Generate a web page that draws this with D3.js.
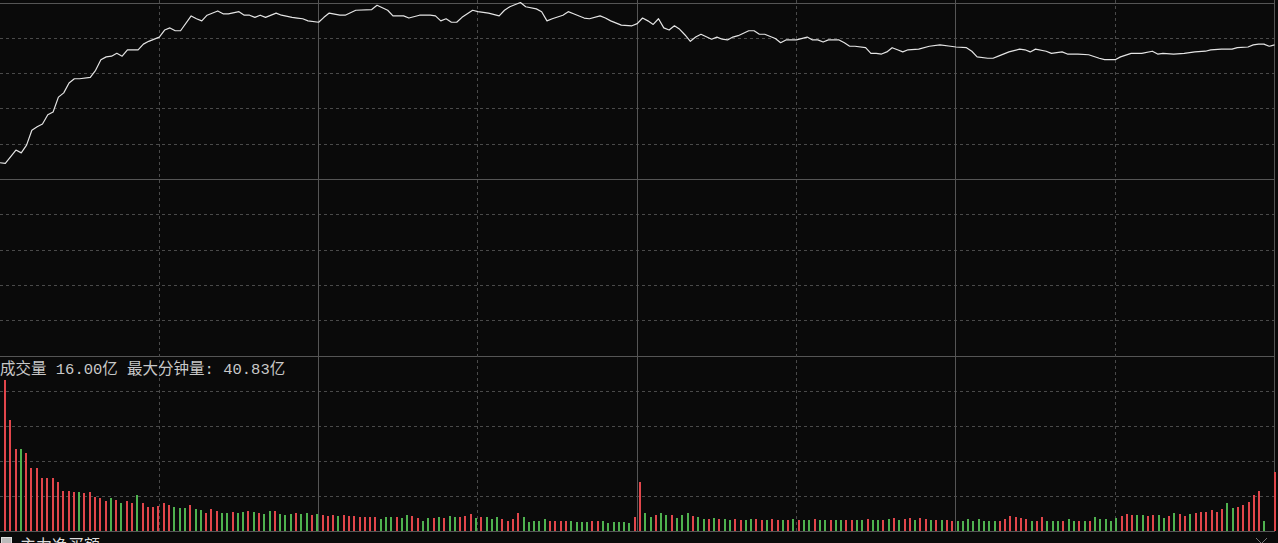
<!DOCTYPE html>
<html>
<head>
<meta charset="utf-8">
<script src="https://cdn.jsdelivr.net/npm/d3@7"></script>
<style>
  html, body { margin: 0; padding: 0; background: #0a0a0a; overflow: hidden; }
  svg { display: block; }
</style>
</head>
<body>
<svg id="chart"></svg>
<script>
// Intraday chart: price line (% change vs previous close) + minute volume bars

// price line, sampled minutes and % change
const lineMinutes = [0,1,3,4,5,6,7,8,9,10,11,12,13,14,15,17,18,19,20,21,22,23,24,25,26,27,28,30,31,32,33,34,36,37,38,39,41,42,43,45,46,47,48,49,50,52,53,55,56,57,58,60,61,62,64,65,67,70,71,73,74,76,77,79,81,82,83,84,85,86,87,88,89,90,92,94,95,96,98,99,101,102,103,104,106,107,108,110,111,113,114,115,117,119,120,121,122,123,124,125,126,127,128,129,130,131,132,134,135,136,137,138,139,141,142,143,144,146,147,148,150,152,153,154,155,156,158,159,160,161,163,164,165,166,167,168,169,170,171,173,175,177,179,180,182,183,184,186,187,188,190,192,193,194,195,197,198,200,201,202,203,205,207,208,210,211,213,215,217,218,219,221,223,225,227,228,230,232,233,235,236,237,238,239,240];
const linePct = [0.23,0.22,0.41,0.37,0.48,0.69,0.74,0.78,0.91,0.95,1.16,1.22,1.36,1.42,1.42,1.44,1.54,1.69,1.73,1.74,1.78,1.74,1.83,1.83,1.83,1.91,1.95,2.01,2.11,2.14,2.10,2.10,2.31,2.27,2.24,2.32,2.38,2.34,2.34,2.37,2.32,2.32,2.29,2.32,2.29,2.35,2.32,2.29,2.28,2.27,2.24,2.22,2.29,2.35,2.32,2.32,2.39,2.40,2.46,2.39,2.31,2.31,2.28,2.32,2.32,2.31,2.24,2.27,2.22,2.22,2.29,2.34,2.39,2.37,2.35,2.31,2.39,2.44,2.50,2.44,2.41,2.37,2.24,2.27,2.32,2.37,2.34,2.28,2.27,2.31,2.28,2.24,2.18,2.17,2.20,2.28,2.24,2.19,2.27,2.14,2.11,2.17,2.12,2.04,1.95,2.01,2.05,1.98,2.01,1.98,1.97,2.01,2.03,2.10,2.10,2.05,2.05,1.99,1.93,1.97,1.97,2.01,1.97,1.97,1.94,1.97,1.97,1.93,1.88,1.88,1.86,1.78,1.78,1.77,1.80,1.86,1.83,1.80,1.83,1.84,1.88,1.90,1.88,1.87,1.86,1.81,1.73,1.71,1.71,1.74,1.80,1.84,1.83,1.80,1.84,1.81,1.78,1.80,1.77,1.77,1.77,1.76,1.71,1.69,1.69,1.73,1.78,1.78,1.81,1.77,1.78,1.77,1.78,1.80,1.81,1.83,1.84,1.84,1.86,1.87,1.90,1.91,1.91,1.88,1.90];

// minute volume (亿), one per minute 0..240
const volume = [
  40.83,30.1,22.1,22.3,21.1,17.1,17.1,14.3,14.3,14.5,13.3,11.0,11.0,10.6,10.6,10.3,10.6,9.4,9.0,8.2,
  9.0,8.6,7.7,8.1,7.8,9.9,7.7,6.5,6.7,6.9,7.6,7.2,6.5,6.2,6.4,7.0,6.1,5.8,5.0,6.1,
  5.6,5.1,5.0,5.2,5.0,5.3,5.6,5.2,5.0,4.8,5.6,5.5,4.6,4.4,4.6,4.9,4.6,4.9,4.5,4.6,
  4.4,4.1,4.31,4.13,4.40,4.13,4.13,3.86,3.86,3.86,3.86,3.23,3.86,3.95,3.86,3.59,4.31,4.13,3.68,2.96,
  3.59,3.68,3.86,3.68,4.04,3.86,3.86,4.13,4.66,3.68,3.86,3.86,3.23,3.86,3.23,2.78,3.32,5.02,3.86,2.69,
  2.87,2.96,3.23,2.96,2.96,2.78,2.78,2.78,2.60,2.60,2.69,2.87,2.78,2.78,2.42,2.69,2.69,2.60,2.33,3.86,
  13.37,5.02,3.86,4.40,5.02,4.49,4.40,3.68,4.40,5.02,4.22,3.9,3.3,3.3,3.5,3.4,3.3,3.2,3.3,3.2,
  3.0,3.3,3.4,3.1,3.2,3.4,3.1,3.0,3.2,3.3,3.1,3.0,3.2,3.4,3.0,3.1,3.0,3.2,3.1,3.0,
  3.2,3.0,3.1,3.3,3.2,3.0,3.1,3.3,3.5,3.2,3.3,3.5,3.0,3.6,3.4,3.2,3.2,3.1,3.0,2.96,
  2.78,2.78,3.23,2.78,3.23,2.78,2.78,2.96,2.78,3.32,4.04,3.77,3.68,3.32,2.96,2.96,3.77,2.96,2.87,2.87,
  2.96,3.32,2.96,2.96,2.78,2.96,3.77,3.23,3.23,2.96,3.59,4.13,4.75,4.40,4.57,4.40,4.13,4.40,4.40,3.50,
  4.13,5.02,4.66,4.13,4.66,5.02,5.29,5.38,5.74,5.29,6.10,7.62,6.37,6.55,7.09,7.98,9.78,10.85,2.78,0,
  16.00
];
// r = up (red), g = down (green), x = no trade; ten minutes per chunk
const volDir = [
  "rrrgrrrrrr", "rrrrgrrrrr", "grgrrgrrrr", "rrgggrggrr", "rggrggrgrg", "grgggrggrg",
  "rrrgrrrrrr", "rgggrggrrg", "grgrggrrrg", "rgggrrrrgg", "gggrrrrggg", "grrggggggr",
  "rggrggrggg", "rggrgrggrr", "ggrrgrrgrg", "rggrggrggr", "rggrggrgrg", "rrgrrgrgrr",
  "ggggggggrr", "rrrrgrrggg", "rggrgrgggg", "grrrggrrgg", "rgrrgrrrrr", "rggrrrrrgx",
  "r"
].join("").split("");

const volTitle = "成交量 16.00亿 最大分钟量: 40.83亿";
const bottomTitle = "主力净买额";

const width = 1278, height = 543;
const svg = d3.select("#chart").attr("width", width).attr("height", height);

svg.append("rect").attr("width", width).attr("height", height).attr("fill", "#0a0a0a");

// scales
const xLine = d3.scaleLinear().domain([0, 240]).range([0, 1274.5]);
const xBar = d3.scaleLinear().domain([0, 240]).range([5, 1275]);
const yPrice = d3.scaleLinear().domain([-2.5, 2.5]).range([355.5, 2.5]);
const volTop = 47.36;
const yVol = d3.scaleLinear().domain([0, volTop]).range([531.5, 355.5]);

const grid = svg.append("g");

// horizontal grid, price panel
d3.range(-2.5, 2.51, 0.5).forEach(function(v) {
    const solid = Math.abs(v) < 0.01 || Math.abs(Math.abs(v) - 2.5) < 0.01;
    grid.append("line")
        .attr("x1", 0).attr("x2", 1275)
        .attr("y1", Math.round(yPrice(v)) + 0.5).attr("y2", Math.round(yPrice(v)) + 0.5)
        .attr("stroke", solid ? "#555" : "#4a4a4a")
        .attr("stroke-dasharray", solid ? null : "3,3");
});

// horizontal grid, volume panel
d3.range(1, 6).forEach(function(k) {
    const v = volTop * k / 5;
    const solid = k === 5;
    grid.append("line")
        .attr("x1", 0).attr("x2", 1275)
        .attr("y1", Math.round(yVol(v)) + 0.5).attr("y2", Math.round(yVol(v)) + 0.5)
        .attr("stroke", solid ? "#555" : "#4a4a4a")
        .attr("stroke-dasharray", solid ? null : "3,3");
});
grid.append("line")
    .attr("x1", 0).attr("x2", 1275)
    .attr("y1", Math.round(yVol(0)) - 0.5).attr("y2", Math.round(yVol(0)) - 0.5)
    .attr("stroke", "#555");

// vertical grid every 30 minutes
d3.range(30, 241, 30).forEach(function(m) {
    const solid = m % 60 === 0;
    const x = Math.floor(xLine(m)) + 0.5;
    grid.append("line")
        .attr("x1", x).attr("x2", x)
        .attr("y1", 0).attr("y2", 531)
        .attr("stroke", solid ? "#555" : "#4a4a4a")
        .attr("stroke-dasharray", solid ? null : "3,3");
});

// volume bars
svg.append("g").selectAll("rect")
    .data(volume.map((v, i) => ({ i: i, v: v, d: volDir[i] })).filter(d => d.v > 0))
    .enter().append("rect")
    .attr("x", d => Math.round(xBar(d.i)) - 1)
    .attr("width", 2)
    .attr("y", d => yVol(d.v))
    .attr("height", d => yVol(0) - 1 - yVol(d.v))
    .attr("fill", d => d.d === "g" ? "#4fb24f" : "#e2464b")
    .attr("shape-rendering", "crispEdges");

// price line
const points = lineMinutes.map((m, i) => [m, linePct[i]]);
const line = d3.line()
    .x(d => xLine(d[0]))
    .y(d => yPrice(d[1]));
svg.append("path")
    .datum(points)
    .attr("d", line)
    .attr("fill", "none")
    .attr("stroke", "#e4e4e4")
    .attr("stroke-width", 1.2)
    .attr("stroke-linejoin", "round");

// volume title
svg.append("text")
    .attr("x", 0)
    .attr("y", 374)
    .attr("fill", "#c8c8c8")
    .style("font-family", "'Liberation Mono', 'Noto Sans CJK SC', monospace")
    .style("font-size", "15.5px")
    .text(volTitle);

// bottom panel header (cut off by the window)
svg.append("rect")
    .attr("x", 1.5).attr("y", 537.5).attr("width", 10).attr("height", 10)
    .attr("fill", "#bbb").attr("stroke", "#ddd");
svg.append("text")
    .attr("x", 20)
    .attr("y", 551)
    .attr("fill", "#dcdcdc")
    .style("font-family", "'Noto Sans CJK SC', sans-serif")
    .style("font-size", "16px")
    .text(bottomTitle);

// small chevron at the bottom right
svg.append("path")
    .attr("d", "M1256,538 L1261.5,543.5 L1267,538")
    .attr("fill", "none")
    .attr("stroke", "#777")
    .attr("stroke-width", 1);
</script>
</body>
</html>
